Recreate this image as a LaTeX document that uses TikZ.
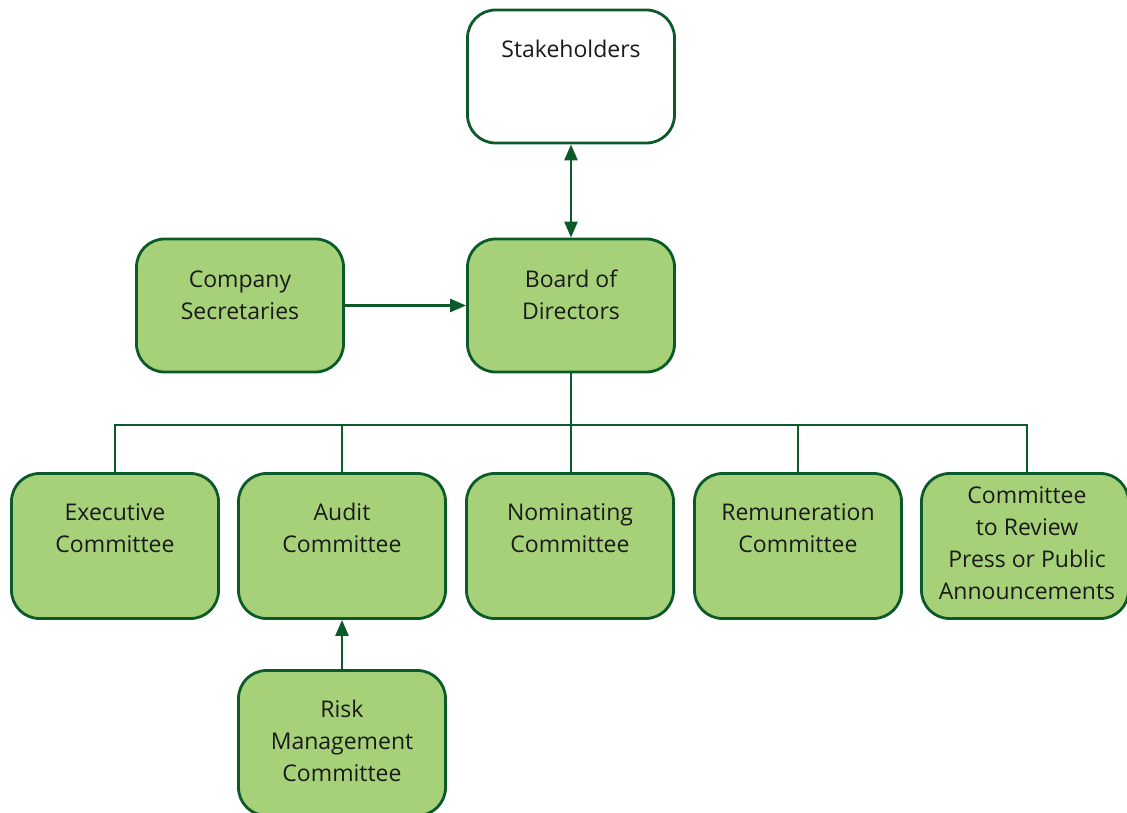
\documentclass[tikz,border=0pt]{standalone}
\usepackage{fontspec}
\setmainfont{Open Sans}
\usetikzlibrary{arrows.meta}
\definecolor{dkgreen}{HTML}{0B5A2A}
\definecolor{ltgreen}{HTML}{A6D178}
\definecolor{txt}{HTML}{1A1A1A}
\begin{document}
\begin{tikzpicture}[x=1pt,y=-1pt,
  box/.style={draw=dkgreen,line width=2.8pt,rounded corners=28pt,fill=ltgreen,
    minimum width=207pt,minimum height=133pt,inner sep=0pt},
  wbox/.style={box,fill=white},
  lbl/.style={font=\fontsize{23}{32}\selectfont,text=txt,align=center,inner sep=0pt},
  conn/.style={draw=dkgreen,line width=2.6pt},
  arr/.style={conn,-{Triangle[length=16pt,width=13pt]}},
  darr/.style={conn,{Triangle[length=16pt,width=13pt]}-{Triangle[length=16pt,width=13pt]}}]
\useasboundingbox (0,0) rectangle (1127,813);

% upper tier
\node[wbox] (stake) at (571,76.5) {};
\node[lbl] (stake-t) at (571,49) {Stakeholders};
\node[box] (board) at (571,305.5) {};
\node[lbl] (board-t) at (571,295) {Board of\\Directors};
\node[box] (sec) at (240,305.5) {};
\node[lbl] (sec-t) at (240,295) {Company\\Secretaries};

% committees
\tikzset{row/.style={box,minimum height=145pt}}
\node[row] (exec) at (115,546) {};
\node[lbl] (exec-t) at (115,528) {Executive\\Committee};
\node[row] (audit) at (342,546) {};
\node[lbl] (audit-t) at (342,528) {Audit\\Committee};
\node[row] (nom) at (570,546) {};
\node[lbl] (nom-t) at (570,528) {Nominating\\Committee};
\node[row] (rem) at (798,546) {};
\node[lbl] (rem-t) at (798,528) {Remuneration\\Committee};
\node[row] (press) at (1025,546) {};
\node[lbl] (press-t) at (1027,543) {Committee\\to Review\\Press or Public\\Announcements};
\node[row] (risk) at (342,743) {};
\node[lbl] (risk-t) at (342,741) {Risk\\Management\\Committee};

% connectors
\coordinate (bus) at (571,425);
\draw[darr] (stake.south) -- (board.north);
\draw[arr] (sec.east) -- (board.west);
\draw[arr] (risk.north) -- (audit.south);
\draw[conn] (board.south) -- (bus);
\draw[conn] (exec.north) |- (bus);
\draw[conn] (press.north -| press-t) |- (bus);
\draw[conn] (audit.north) -- (audit.north |- bus);
\draw[conn] (bus) -- (board.south |- nom.north);
\draw[conn] (rem.north) -- (rem.north |- bus);
\end{tikzpicture}
\end{document}
